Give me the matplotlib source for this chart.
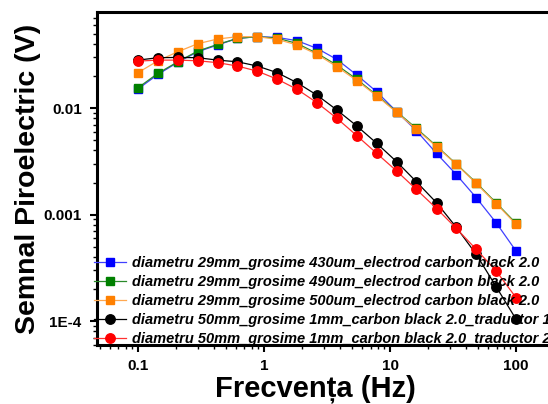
import matplotlib
matplotlib.use("Agg")
import matplotlib.pyplot as plt
from matplotlib.ticker import LogLocator, FixedFormatter, FixedLocator, NullFormatter

plt.rcParams["font.family"] = ["Liberation Sans", "DejaVu Sans"]

# frequency points (Hz)
freq = [0.1, 0.144, 0.207, 0.298, 0.428, 0.616, 0.886, 1.27, 1.83, 2.64,
        3.79, 5.46, 7.85, 11.3, 16.2, 23.4, 33.6, 48.3, 69.5, 100]

# pyroelectric signal (V)
v_430um = [0.0151, 0.0207, 0.0269, 0.0338, 0.0391, 0.0451, 0.0468, 0.0461, 0.0429, 0.0363,
           0.0286, 0.0204, 0.0142, 0.00924, 0.00612, 0.00375, 0.00237, 0.00144, 0.000838, 0.000454]
v_490um = [0.0155, 0.0212, 0.0272, 0.0343, 0.0396, 0.0451, 0.0468, 0.0454, 0.0404, 0.0326,
           0.0253, 0.0186, 0.0132, 0.00924, 0.00644, 0.00440, 0.00298, 0.00199, 0.00129, 0.000826]
v_500um = [0.0215, 0.0278, 0.0338, 0.0402, 0.0445, 0.0468, 0.0468, 0.0442, 0.0391, 0.0319,
           0.0244, 0.0181, 0.0130, 0.00910, 0.00630, 0.00434, 0.00296, 0.00196, 0.00127, 0.000809]
v_trad1 = [0.0282, 0.0297, 0.0299, 0.0297, 0.0282, 0.0272, 0.0248, 0.0215, 0.0173, 0.0132,
           0.00958, 0.00678, 0.00466, 0.00313, 0.00203, 0.00129, 0.000758, 0.000423, 0.000210, 0.000104]
v_trad2 = [0.0276, 0.0282, 0.0282, 0.0278, 0.0267, 0.0248, 0.0222, 0.0187, 0.0150, 0.0112,
           0.00800, 0.00550, 0.00375, 0.00256, 0.00172, 0.00114, 0.000741, 0.000471, 0.000295, 0.000166]

labels = [
    "diametru 29mm_grosime 430um_electrod carbon black 2.0",
    "diametru 29mm_grosime 490um_electrod carbon black 2.0",
    "diametru 29mm_grosime 500um_electrod carbon black 2.0",
    "diametru 50mm_grosime 1mm_carbon black 2.0_traductor 1",
    "diametru 50mm_grosime 1mm_carbon black 2.0_traductor 2",
]

fig = plt.figure(figsize=(5.48, 4.04), dpi=100)
ax = fig.add_axes([0.177, 0.146, 0.834, 0.824])

series = [
    (v_430um, "#0000ff", "#4040ff", "s"),
    (v_490um, "#008000", "#2a8a2a", "s"),
    (v_500um, "#ff8000", "#ffa850", "s"),
    (v_trad1, "#000000", "#000000", "o"),
    (v_trad2, "#ff0000", "#ff3030", "o"),
]
for (vals, mc, lc, mk), lab in zip(series, labels):
    ax.plot(freq, vals, color=lc, lw=0.9, marker=mk, markerfacecolor=mc,
            markeredgecolor=mc, markersize=5.6 if mk == "s" else 6.8, label=lab)

ax.set_xscale("log")
ax.set_yscale("log")
ax.set_xlim(0.0473, 200)
ax.set_ylim(5.96e-5, 0.0796)

ax.xaxis.set_major_locator(FixedLocator([0.1, 1, 10, 100]))
ax.xaxis.set_major_formatter(FixedFormatter(["0.1", "1", "10", "100"]))
ax.xaxis.set_minor_locator(LogLocator(base=10, subs=range(2, 10)))
ax.xaxis.set_minor_formatter(NullFormatter())
ax.yaxis.set_major_locator(FixedLocator([1e-4, 1e-3, 1e-2]))
ax.yaxis.set_major_formatter(FixedFormatter(["1E-4", "0.001", "0.01"]))
ax.yaxis.set_minor_locator(LogLocator(base=10, subs=range(2, 10)))
ax.yaxis.set_minor_formatter(NullFormatter())

for side in ["left", "bottom", "top"]:
    ax.spines[side].set_linewidth(2.2)
ax.spines["right"].set_visible(False)
ax.tick_params(which="major", direction="out", length=5, width=1.5, labelsize=11)
ax.tick_params(which="minor", direction="out", length=3, width=1.0)
ax.tick_params(axis="y", which="major", pad=6)
ax.tick_params(axis="x", which="major", pad=5)
for t in ax.get_xticklabels() + ax.get_yticklabels():
    t.set_fontweight("bold")

ax.set_xlabel("Frecvența (Hz)", fontsize=21, fontweight="bold")
ax.xaxis.set_label_coords(0.479, -0.088)
ax.set_ylabel("Semnal Piroelectric (V)", fontsize=20.5, fontweight="bold")
ax.yaxis.set_label_coords(-0.122, 0.5)

leg = ax.legend(loc="lower left", bbox_to_anchor=(-0.025, -0.03), frameon=False,
                prop={"weight": "bold", "style": "italic", "size": 10.5},
                handlelength=2.2, handletextpad=0.35, labelspacing=0.34,
                borderaxespad=0.2)

fig.savefig("out.png", dpi=100)
